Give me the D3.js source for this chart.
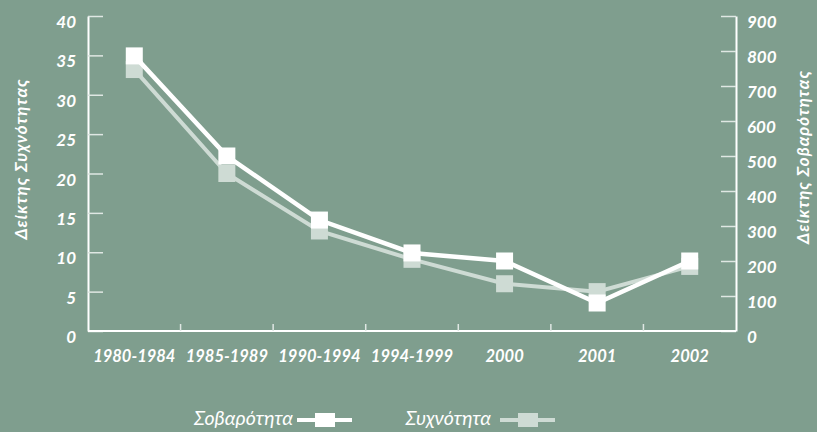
<!DOCTYPE html>
<html>
<head>
<meta charset="utf-8">
<script src="https://cdn.jsdelivr.net/npm/d3@7"></script>
<style>
  html, body { margin: 0; padding: 0; background: #7f9e8e; }
  svg { display: block; }
  text { font-family: Lato, "Open Sans", sans-serif; fill: #ffffff; }
</style>
</head>
<body>
<svg id="chart"></svg>
<script>
// δεδομένα
const periods = ['1980-1984', '1985-1989', '1990-1994', '1994-1999', '2000', '2001', '2002'];
const severity = [786, 500, 317, 223, 200, 80, 200];   // Σοβαρότητα (δεξιός άξονας)
const frequency = [33.2, 20, 12.7, 9.1, 6, 5, 8.2];    // Συχνότητα (αριστερός άξονας)
const leftTicks = [0, 5, 10, 15, 20, 25, 30, 35, 40];
const rightTicks = [0, 100, 200, 300, 400, 500, 600, 700, 800, 900];

const width = 817, height = 432;
const margin = {top: 16, right: 81, bottom: 101, left: 88};
const innerW = width - margin.left - margin.right;
const innerH = height - margin.top - margin.bottom;

const white = '#ffffff';
const light = '#cedbd4';

const svg = d3.select('#chart').attr('width', width).attr('height', height);
const g = svg.append('g').attr('transform', `translate(${margin.left},${margin.top})`);

const x = d3.scaleBand().domain(periods).range([0, innerW]).padding(0);
const yL = d3.scaleLinear().domain([0, 40]).range([innerH, 0]);
const yR = d3.scaleLinear().domain([0, 900]).range([innerH, 0]);

// άξονες
const styleAxis = (sel) => {
    sel.select('.domain').attr('stroke', white).attr('stroke-width', 2);
    sel.selectAll('.tick line').attr('stroke', '#dfe7e3').attr('stroke-width', 1.5);
    sel.selectAll('.tick text')
        .attr('font-size', 17).attr('font-weight', 700).attr('font-style', 'italic')
        .attr('fill', white).attr('dy', '0.68em');
};

g.append('g')
    .call(d3.axisLeft(yL).tickValues(leftTicks).tickSize(-15).tickSizeOuter(0).tickPadding(12))
    .call(styleAxis);

g.append('g')
    .attr('transform', `translate(${innerW},0)`)
    .call(d3.axisRight(yR).tickValues(rightTicks).tickSize(-15).tickSizeOuter(0).tickPadding(11))
    .call(styleAxis);

// άξονας x: γραμμές ανάμεσα στις κατηγορίες
const xAxis = g.append('g').attr('transform', `translate(0,${innerH})`);
xAxis.append('line')
    .attr('x1', 0).attr('x2', innerW)
    .attr('stroke', white).attr('stroke-width', 2);
xAxis.selectAll('.sep')
    .data(periods.slice(1))
    .join('line')
    .attr('x1', d => x(d)).attr('x2', d => x(d))
    .attr('y1', 0).attr('y2', -7)
    .attr('stroke', '#dfe7e3').attr('stroke-width', 1.5);
xAxis.selectAll('.lbl')
    .data(periods)
    .join('text')
    .attr('x', d => x(d) + x.bandwidth() / 2)
    .attr('y', 31)
    .attr('text-anchor', 'middle')
    .attr('font-size', 16.5).attr('font-weight', 700).attr('font-style', 'italic')
    .text(d => d);

// τίτλοι αξόνων
svg.append('text')
    .attr('transform', `translate(27,159) rotate(-90)`)
    .attr('text-anchor', 'middle')
    .attr('font-size', 17).attr('font-weight', 700).attr('font-style', 'italic')
    .attr('letter-spacing', 1)
    .text('Δείκτης Συχνότητας');
svg.append('text')
    .attr('transform', `translate(809,157) rotate(-90)`)
    .attr('text-anchor', 'middle')
    .attr('font-size', 17).attr('font-weight', 700).attr('font-style', 'italic')
    .attr('letter-spacing', 1)
    .text('Δείκτης Σοβαρότητας');

// σειρές
const cx = d => x(d) + x.bandwidth() / 2;
const series = [
    {values: frequency, y: yL, color: light, sw: 4},
    {values: severity, y: yR, color: white, sw: 4.5}
];
const ms = 17;

series.forEach(s => {
    const pts = periods.map((p, i) => [cx(p), s.y(s.values[i])]);
    g.append('path')
        .attr('d', d3.line()(pts))
        .attr('fill', 'none')
        .attr('stroke', s.color)
        .attr('stroke-width', s.sw);
    g.append('g').selectAll('rect')
        .data(pts)
        .join('rect')
        .attr('x', d => d[0] - ms / 2)
        .attr('y', d => d[1] - ms / 2)
        .attr('width', ms).attr('height', ms)
        .attr('fill', s.color);
});

// υπόμνημα
const legend = [
    {label: 'Σοβαρότητα', color: white, tx: 293, lx: 297},
    {label: 'Συχνότητα', color: light, tx: 491, lx: 500}
];
const lg = svg.append('g');
legend.forEach(d => {
    lg.append('text')
        .attr('x', d.tx).attr('y', 425)
        .attr('text-anchor', 'end')
        .attr('font-size', 19.5).attr('font-style', 'italic')
        .text(d.label);
    lg.append('line')
        .attr('x1', d.lx).attr('x2', d.lx + 55)
        .attr('y1', 420).attr('y2', 420)
        .attr('stroke', d.color).attr('stroke-width', 4);
    lg.append('rect')
        .attr('x', d.lx + 18).attr('y', 413)
        .attr('width', 20).attr('height', 14)
        .attr('fill', d.color);
});
</script>
</body>
</html>
